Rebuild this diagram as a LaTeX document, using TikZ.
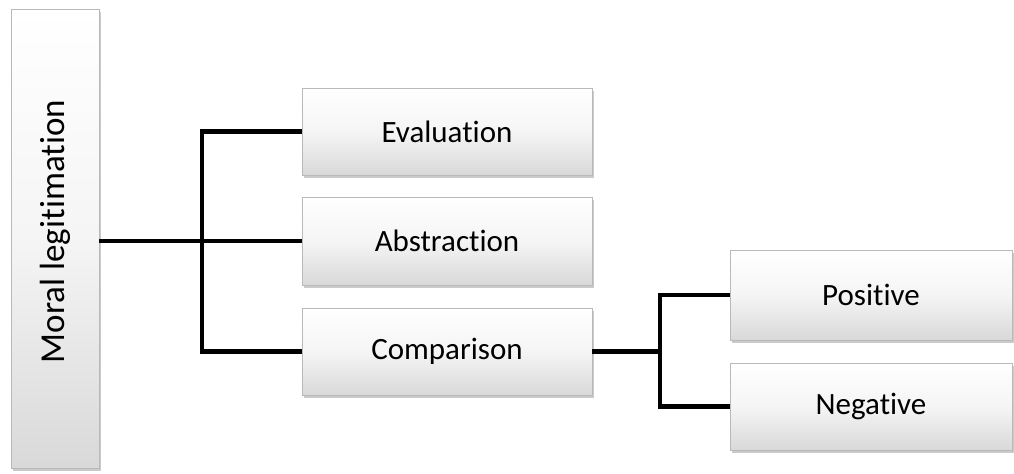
\documentclass[tikz,border=0pt]{standalone}
\usepackage{fontspec}
\setmainfont[Ligatures=CommonOff]{Carlito}
\usetikzlibrary{shadows}

\tikzset{
  box/.style={draw=gray!55, line width=0.4pt, inner sep=0pt,
    top color=white, bottom color=gray!30, middle color=gray!8,
    drop shadow={shadow xshift=1.2pt, shadow yshift=-1.5pt, fill=gray!70, opacity=0.6},
    font=\fontsize{15.5}{18}\selectfont},
  link/.style={line width=2.4pt, black}
}

\begin{document}
\begin{tikzpicture}[x=0.5pt, y=-0.5pt]

    \useasboundingbox (0,0) rectangle (1014,474);

    % root
    \node[box, rotate=90, minimum width=229.5pt, minimum height=44pt,
      font=\fontsize{17.5}{20}\selectfont] (moral) at (55,238.5) {\hspace*{7pt}Moral legitimation};

    % first level
    \node[box, minimum width=145pt, minimum height=43.5pt] (eval) at (447,131.5) {Evaluation};
    \node[box, minimum width=145pt, minimum height=44pt] (abstr) at (447,241) {Abstraction};
    \node[box, minimum width=145pt, minimum height=43.5pt] (comp) at (447,351.5) {Comparison};

    % second level
    \node[box, minimum width=141pt, minimum height=45pt] (pos) at (871,295) {Positive};
    \node[box, minimum width=141pt, minimum height=43.5pt] (neg) at (871,406.5) {Negative};

    \coordinate (forkA) at (202,241);
    \coordinate (forkB) at (660,351.5);

    \draw[link] (moral.south |- abstr.west) -- (abstr.west);
    \draw[link] (eval.west) -| (forkA) |- (comp.west);

    \draw[link] (comp.east) -- (forkB);
    \draw[link] (pos.west) -| (forkB) |- (neg.west);

\end{tikzpicture}
\end{document}
